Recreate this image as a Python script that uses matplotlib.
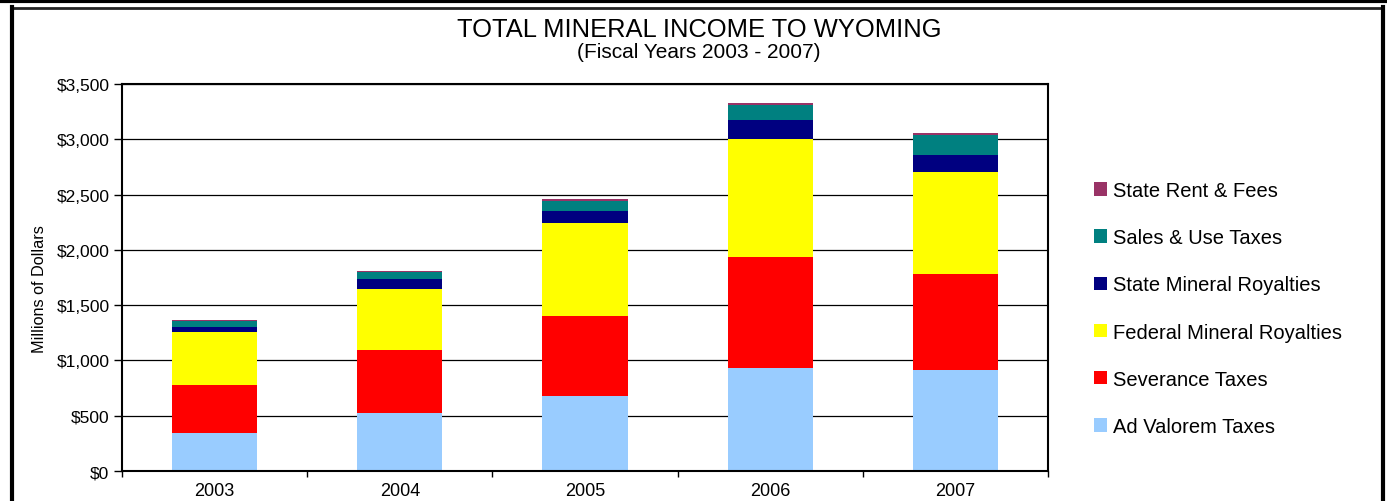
import numpy as np
import matplotlib.pyplot as plt
from matplotlib.lines import Line2D
from matplotlib.ticker import FuncFormatter

plt.rcParams['font.family'] = ['Liberation Sans', 'DejaVu Sans']

# data, millions of dollars
years = ['2003', '2004', '2005', '2006', '2007']
ad_valorem = [345, 525, 678, 931, 913]
severance = [432, 570, 724, 1004, 868]
federal_royalties = [480, 551, 841, 1065, 923]
state_royalties = [45, 90, 108, 174, 154]
sales_use = [57, 61, 93, 136, 180]
rent_fees = [9, 12, 16, 18, 18]

series = [
    ('Ad Valorem Taxes', ad_valorem, '#99CCFF'),
    ('Severance Taxes', severance, '#FF0000'),
    ('Federal Mineral Royalties', federal_royalties, '#FFFF00'),
    ('State Mineral Royalties', state_royalties, '#000080'),
    ('Sales & Use Taxes', sales_use, '#008080'),
    ('State Rent & Fees', rent_fees, '#993366'),
]

W, H = 1387, 502
fig = plt.figure(figsize=(W / 100, H / 100), dpi=100)
ax = fig.add_axes([122 / W, 1 - 472 / H, (1048 - 122) / W, (472 - 85) / H])

x = np.arange(len(years))
bottom = np.zeros(len(years))
handles = []
for name, vals, col in series:
    b = ax.bar(x, vals, 0.46, bottom=bottom, color=col, label=name, linewidth=0)
    bottom += np.array(vals)
    handles.append(b)

ax.set_xlim(-0.5, len(years) - 0.5)
ax.set_ylim(0, 3500)
ax.set_yticks(np.arange(0, 3501, 500))
ax.yaxis.set_major_formatter(FuncFormatter(lambda v, p: '${:,.0f}'.format(v)))
ax.set_xticks(x)
ax.set_xticklabels(years)
ax.set_xticks(np.arange(-0.5, len(years)), minor=True)
ax.tick_params(axis='x', which='major', length=0, pad=8, labelsize=13)
ax.tick_params(axis='x', which='minor', length=4, width=1, direction='out')
ax.tick_params(axis='y', length=6, width=1, pad=3, labelsize=12.5)
ax.yaxis.grid(True, color='black', linewidth=0.9)
ax.set_axisbelow(True)
for s in ax.spines.values():
    s.set_linewidth(1.5)

fig.text(40 / W, 1 - 289 / H, 'Millions of Dollars', rotation=90,
         ha='center', va='center', fontsize=11.7)
fig.text(699 / W, 1 - 30 / H, 'TOTAL MINERAL INCOME TO WYOMING',
         ha='center', va='center', fontsize=18.4)
fig.text(699 / W, 1 - 53 / H, '(Fiscal Years 2003 - 2007)',
         ha='center', va='center', fontsize=15)

fig.legend(handles[::-1], [s[0] for s in series][::-1],
           loc='center left', bbox_to_anchor=(1086 / W, 1 - 309.5 / H),
           frameon=False, fontsize=14.5, handlelength=0.65, handleheight=0.65,
           handletextpad=0.3, labelspacing=1.4, borderaxespad=0)

# outer frame
tf = fig.transFigure
fig.add_artist(Line2D([0, 1], [1 - 1.5 / H, 1 - 1.5 / H], transform=tf,
                      color='black', linewidth=3))
fig.add_artist(Line2D([12 / W, 1382.5 / W], [1 - 8.5 / H, 1 - 8.5 / H],
                      transform=tf, color='#222222', linewidth=2))
fig.add_artist(Line2D([12 / W, 12 / W], [0, 1 - 7.5 / H], transform=tf,
                      color='black', linewidth=3))
fig.add_artist(Line2D([1382.5 / W, 1382.5 / W], [0, 1 - 7.5 / H], transform=tf,
                      color='black', linewidth=3))

fig.savefig('out.png', dpi=100)
